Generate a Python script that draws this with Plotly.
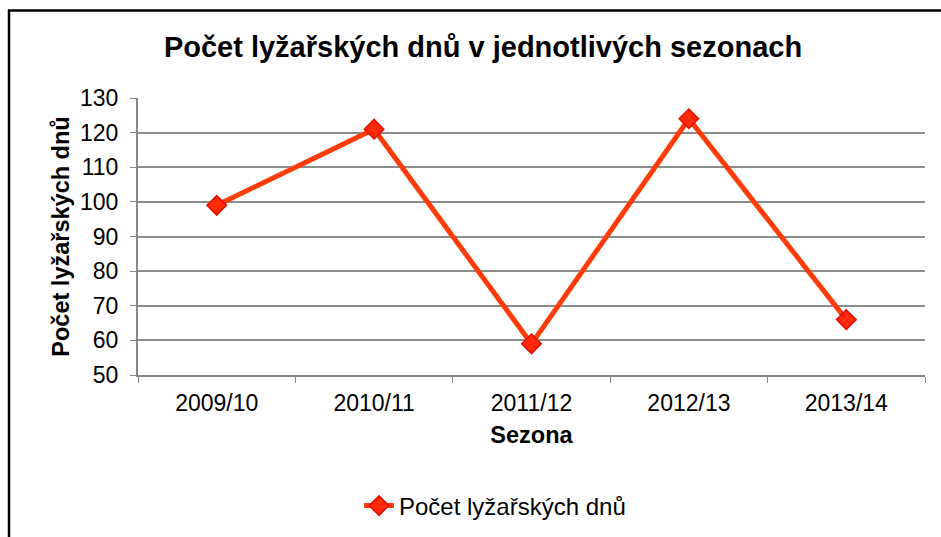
import plotly.graph_objects as go

seasons = ["2009/10", "2010/11", "2011/12", "2012/13", "2013/14"]
ski_days = [99, 121, 59, 124, 66]
series_name = "Počet lyžařských dnů"
chart_title = "Počet lyžařských dnů v jednotlivých sezonach"
x_title = "Sezona"
y_title = "Počet lyžařských dnů"
y_ticks = [50, 60, 70, 80, 90, 100, 110, 120, 130]

W, H = 941, 537
L, R, T, B = 138, 16, 98, 162
pw, ph = W - L - R, H - T - B

def px(x):
    return (x - L) / pw

def py(y):
    return (H - B - y) / ph

fig = go.Figure()
fig.add_trace(go.Scatter(
    x=seasons, y=ski_days, name=series_name, mode="lines+markers",
    line=dict(color="#FF3C0A", width=5),
    marker=dict(symbol="diamond", size=15, color="#FF2A0A",
                line=dict(color="#E01000", width=1.5)),
))

font = "Liberation Sans, Arial, sans-serif"
fig.update_layout(
    width=W, height=H,
    margin=dict(l=L, r=R, t=T, b=B),
    paper_bgcolor="white", plot_bgcolor="white",
    font=dict(family=font, size=22, color="black"),
    title=dict(text="<b>" + chart_title + "</b>", x=483 / W, xref="container",
               xanchor="center", y=1 - 47 / H, yref="container", yanchor="middle",
               font=dict(size=29, color="black")),
    showlegend=True,
    legend=dict(orientation="h", xref="container", yref="container",
                x=495 / W, xanchor="center", y=1 - 506 / H, yanchor="middle",
                font=dict(size=24)),
    xaxis=dict(type="category", range=[-0.5, 4.5], showgrid=False,
               showline=True, linecolor="#868686", linewidth=2,
               ticks="outside", tickson="boundaries", ticklen=6, tickcolor="#868686",
               tickwidth=1, tickfont=dict(size=23), ticklabelstandoff=6,
               title=dict(text="<b>" + x_title + "</b>", standoff=12, font=dict(size=23.5))),
    yaxis=dict(range=[50, 130], tickvals=y_ticks, showgrid=True, gridcolor="#8C8C8C",
               gridwidth=2, showline=True, linecolor="#868686", linewidth=2,
               ticks="outside", ticklen=6, tickcolor="#868686", tickwidth=1,
               zeroline=False, tickfont=dict(size=23), ticklabelstandoff=7,
               title=dict(text="<b>" + y_title + "</b>", standoff=4, font=dict(size=23.5))),
    shapes=[
        dict(type="line", xref="paper", yref="paper", x0=px(9), x1=px(9), y0=py(10), y1=py(560),
             line=dict(color="black", width=2.5)),
        dict(type="line", xref="paper", yref="paper", x0=px(8), x1=px(960), y0=py(10.5), y1=py(10.5),
             line=dict(color="black", width=2.5)),
    ],
)
fig.write_html("out.html", config={"displayModeBar": False},
               post_script="document.body.style.margin='0';document.body.style.overflow='hidden';")
